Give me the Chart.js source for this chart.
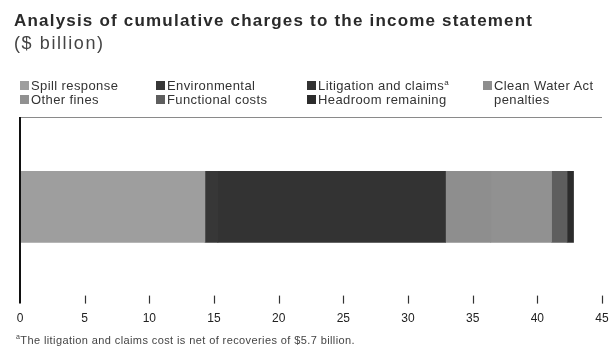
<!DOCTYPE html>
<html><head><meta charset="utf-8">
<script src="https://cdn.jsdelivr.net/npm/chart.js@4"></script>
<style>
html,body{margin:0;padding:0;background:#fff;}
#wrap{position:relative;width:613px;height:360px;overflow:hidden;font-family:"Liberation Sans",Arial,sans-serif;}
#c{position:absolute;left:0;top:0;}
.title{position:absolute;left:14px;top:11px;font-size:17px;font-weight:bold;color:#2a2a2a;white-space:nowrap;letter-spacing:1.2px;}
.sub{position:absolute;left:14px;top:33px;font-size:18px;color:#444;letter-spacing:1.6px;}
.leg{position:absolute;font-size:13px;color:#333;line-height:14px;white-space:nowrap;letter-spacing:0.4px;}
.leg sup{font-size:8px;line-height:0;}
.sw{position:absolute;width:9px;height:9px;}
.foot{position:absolute;left:16px;top:334px;font-size:11px;color:#444;white-space:nowrap;letter-spacing:0.4px;}
.foot sup{font-size:7px;line-height:0;}
</style></head>
<body><div id="wrap"><canvas id="c" width="613" height="360"></canvas>
<div class="title">Analysis of cumulative charges to the income statement</div>
<div class="sub">($ billion)</div>
<div id="legend"></div>
<div class="foot"><sup>a</sup>The litigation and claims cost is net of recoveries of $5.7 billion.</div>
</div>
<script>
// ---- data ----
const categories = ['Cumulative charges'];
const seriesNames = ['Spill response','Environmental','Litigation and claims','Clean Water Act penalties','Other fines','Functional costs','Headroom remaining'];
const spillResponse = [14.3];
const environmental = [1.0];
const litigationAndClaims = [17.6];
const cleanWaterActPenalties = [3.5];
const otherFines = [4.7];
const functionalCosts = [1.2];
const headroomRemaining = [0.5];
const xTickValues = [0,5,10,15,20,25,30,35,40,45];
const legendLabels = ['Spill response','Environmental','Litigation and claims<sup>a</sup>','Clean Water Act<br>penalties','Other fines','Functional costs','Headroom remaining'];

// ---- styles ----
const colors = ['#9e9e9e','#373737','#333333','#8e8e8e','#919191','#5e5e5e','#2c2c2c'];
const seriesValues = [spillResponse, environmental, litigationAndClaims, cleanWaterActPenalties, otherFines, functionalCosts, headroomRemaining];
const frameTopOffset = 7; // frame starts below the plot-area top

// legend (HTML)
const legCols = [20,156,307,483];
const legRows = [86,100];
const legend = document.getElementById('legend');
legendLabels.forEach((lab,i)=>{
  const col = i<4 ? i : i-4, row = i<4 ? 0 : 1;
  const sw = document.createElement('div');
  sw.className='sw'; sw.style.left=legCols[col]+'px'; sw.style.top=(legRows[row]-5)+'px'; sw.style.background=colors[i];
  legend.appendChild(sw);
  const t = document.createElement('div');
  t.className='leg'; t.style.left=(legCols[col]+11)+'px'; t.style.top=(legRows[row]-7)+'px'; t.innerHTML=lab;
  legend.appendChild(t);
});

const decor = {
  id:'decor',
  afterDraw(chart){
    const ctx = chart.ctx, a = chart.chartArea, xs = chart.scales.x;
    const top = a.top + frameTopOffset;
    ctx.save();
    ctx.strokeStyle='#8a8a8a'; ctx.lineWidth=1;
    ctx.beginPath(); ctx.moveTo(a.left, top+0.5); ctx.lineTo(a.right, top+0.5); ctx.stroke();
    ctx.strokeStyle='#333'; ctx.lineWidth=1.2;
    xTickValues.forEach(v=>{
      if(v===0) return;
      const x = Math.round(xs.getPixelForValue(v))+0.5;
      ctx.beginPath(); ctx.moveTo(x, a.bottom-8); ctx.lineTo(x, a.bottom); ctx.stroke();
    });
    ctx.strokeStyle='#111'; ctx.lineWidth=2;
    ctx.beginPath(); ctx.moveTo(a.left, top); ctx.lineTo(a.left, a.bottom); ctx.stroke();
    ctx.restore();
  }
};

new Chart(document.getElementById('c'), {
  type:'bar',
  data:{
    labels: categories,
    datasets: seriesNames.map((n,i)=>({label:n, data:seriesValues[i], backgroundColor:colors[i], borderWidth:0, barThickness:71}))
  },
  options:{
    indexAxis:'y',
    responsive:false,
    animation:false,
    devicePixelRatio:1,
    layout:{padding:{left:20,right:11,top:110,bottom:34}},
    plugins:{legend:{display:false},title:{display:false},tooltip:{enabled:false}},
    scales:{
      x:{type:'linear',stacked:true,min:0,max:45,
         afterBuildTicks(s){ s.ticks = xTickValues.map(v=>({value:v})); },
         ticks:{font:{family:'"Liberation Sans", Arial, sans-serif',size:12},color:'#222',padding:0,maxRotation:0,autoSkip:false},
         grid:{display:false},border:{display:false}},
      y:{stacked:true,display:false}
    }
  },
  plugins:[decor]
});
</script>
</body></html>
